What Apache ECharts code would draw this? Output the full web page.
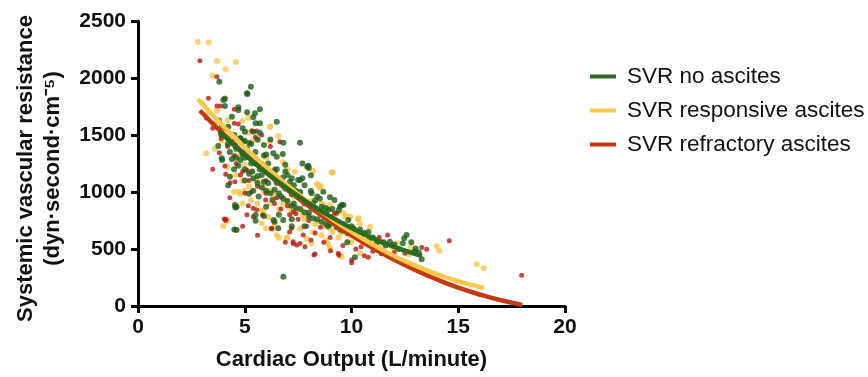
<!DOCTYPE html>
<html>
<head>
<meta charset="utf-8">
<script src="https://cdn.jsdelivr.net/npm/echarts@6/dist/echarts.min.js"></script>
<style>html,body{margin:0;padding:0;background:#fff}#c{width:868px;height:377px}</style>
</head>
<body>
<div id="c"></div>
<script>
var seriesNames = ['SVR no ascites', 'SVR responsive ascites', 'SVR refractory ascites'];
var xTicks = [0, 5, 10, 15, 20];
var yTicks = [0, 500, 1000, 1500, 2000, 2500];

var greenPts = [
[3.81,1968],[5.29,1923],[5.11,1866],[4.0,1807],[4.07,1754],[4.70,1743],[5.11,1699],[5.48,1690],[5.71,1725],[5.40,1655],[5.51,1602],[5.71,1602],[6.50,1616],[3.92,1573],[4.23,1573],[5.01,1529],[5.40,1529],[6.81,1432],[5.90,1412],[4.51,1500],[4.78,1471],[4.93,1441],[4.54,1412],[5.2,1430],
[3.76,1403],[3.92,1295],[3.94,1280],[4.31,1134],[4.23,1060],[5.2,985],[4.62,871],[4.56,865],[5.51,798],[4.51,672],[5.51,748],[6.39,739],[6.57,681],[6.81,257],[7.2,700],
[7.59,1432],[7.70,1251],[7.93,1222],[8.0,1210],[8.10,1146],[7.59,1105],[7.2,1120],[8.10,1008],[8.68,1003],[8.52,944],[8.99,953],[9.54,886],[9.46,870],[8.91,842],
[10.16,427],[11.41,462],[11.80,564],[10.4,670],[10.8,650],
[12.58,623],[12.47,594],[12.4,550],[12.97,477],[13.15,470],[13.29,409],[13.0,505],
[5.12,1859],[4.07,1818],[4.70,1719],[6.78,1333],[6.34,1339],[6.5,1310],[7.12,1090],[7.5,1105],[7.8,1060],[8.13,988],[9.2,930],[8.6,871],[9.62,886],[9.4,840],[9.85,754],[10.1,680],[10.24,637],[9.8,560],[6.8,754],[6.35,754],[5.9,790],[4.54,886],[4.62,667],[5.4,1010],[5.65,960],[6.3,930],[6.7,960],[7.3,900],[8.0,820],[8.9,700],[9.3,690],[5.9,1090],[5.6,1140],[5.35,1180],[4.7,1230],[4.4,1290],[4.3,1350],[5.1,1380],[5.5,1350],[5.9,1320],[6.1,1250],[6.0,1330],[4.8,1470],[5.0,1450],[5.6,1460],[6.8,1130],[6.5,1080],[6.9,1030],[7.8,900],[8.3,850],[7.4,1010],[8.3,925],
[6.0,1200],[6.2,1150],[6.6,1100],[7.0,1050],[7.2,980],[7.6,950],[8.2,900],[8.6,800],[9.0,780],[9.6,720],[10.5,620],[11.0,600],[11.5,560],[12.0,540],[5.0,1300],[5.3,1250],[5.7,1200],[4.6,1380],[4.9,1330],[6.4,1180],[7.0,1150],[7.6,1000],[8.8,860],[10.0,700],[10.6,640],[7.98,1231],
[4.2,1420],[4.4,1440],[4.6,1300],[4.8,1280],[5.0,1200],[5.2,1160],[5.4,1120],[5.6,1080],[5.8,1040],[6.0,1010],[6.2,990],[6.4,1020],[6.6,990],[6.8,940],[7.0,920],[7.2,880],[7.4,860],[7.6,850],[7.8,820],[8.0,790],[8.2,770],[8.4,760],[8.6,740],[8.8,720],[9.0,720],[9.2,740],[9.4,700],[9.6,660],[9.8,640],[10.2,620],[10.8,580],[11.2,560],[11.6,530],[12.2,500],[12.8,560],[5.5,1250],[5.8,1150],[6.1,1080],[6.5,1200],[6.9,1180],[7.3,1060],[7.7,1120],[8.4,960],[9.1,850],[4.5,1200],[5.0,1100],[6.0,870],[6.6,800],[7.2,760],[7.8,700],[3.9,1500],[4.1,1560],[4.4,1660],[4.9,1560],[5.3,1420],[6.2,1460],[6.9,1240],[5.7,1520]
];

var yellowPts = [
[2.80,2315],[3.30,2312],[3.70,2149],[4.59,2140],[4.11,2076],[3.50,2020],[4.06,1822],[3.70,1713],[5.17,1651],[4.20,1631],[4.89,1625],[6.20,1573],[6.57,1491],[6.18,1441],[5.61,1456],
[3.19,1339],[4.2,1220],[4.70,1003],[4.78,985],[5.87,830],[4.20,745],[4.0,702],[5.79,725],[6.30,675],[6.60,599],[7.0,600],
[8.21,1187],[9.12,1170],[7.35,1178],[8.40,1070],[8.55,1050],[8.68,886],[9.0,886],[9.70,789],[9.95,780],[10.32,769],[7.90,915],
[8.13,549],[8.91,543],[9.77,789],[10.87,696],[9.54,432],[11.9,520],[10.40,462],[11.10,564],
[12.79,520],[12.12,549],[12.7,450],[13.99,526],[14.1,485],[15.86,366],[16.19,331],
[6.18,1573],[9.07,1170],[6.8,1260],[8.45,1061],[8.5,1040],[10.3,760],[10.4,720],[8.99,506],[9.46,440],[8.8,570],[6.96,594],[6.5,620],[6.0,680],[5.8,840],[4.9,900],[5.0,1010],[6.35,970],[7.0,920],[7.7,835],[8.4,740],[9.0,680],[4.9,1100],[4.9,1350],[5.8,1250],[5.35,1440],[5.2,1520],[6.4,1120],[7.5,985],[8.1,920],[9.2,780],
[5.5,1100],[5.9,1000],[6.2,900],[6.6,850],[7.2,820],[7.8,760],[8.2,650],[8.6,620],[9.4,600],[10.0,560],[4.6,1150],[5.2,1050],[3.9,1450],[4.3,1500],
[3.0,1780],[3.3,1700],[3.6,1600],[4.0,1520],[4.4,1420],[4.7,1320],[5.0,1240],[5.3,1180],[5.6,1120],[5.9,1060],[6.2,1010],[6.5,960],[6.8,900],[7.1,860],[7.4,840],[7.7,800],[8.0,770],[8.3,720],[8.7,700],[9.1,650],[9.5,640],[9.9,620],[10.3,600],[10.8,560],[11.3,540],[12.0,500],[6.8,1080],[7.3,960],[8.6,900],[5.6,900],[6.1,780],[6.4,720],[7.6,680],[7.9,590],[5.3,930],[4.5,1000],[3.6,1380],[6.0,1300],[7.0,1200],[9.6,820]
];

var redPts = [
[2.90,2152],[3.70,2011],[3.30,1822],[3.70,1754],[4.51,1725],[3.81,1631],[4.51,1602],[4.70,1596],[5.33,1538],[5.56,1535],[6.64,1441],
[3.81,1345],[4.07,1228],[4.11,1155],[4.31,1082],[4.54,1091],[5.01,988],[5.17,880],[5.40,857],[5.56,845],[5.83,798],[4.04,763],[4.12,760],[6.26,681],[7.19,681],[7.27,564],[7.1,650],
[9.20,813],
[7.27,827],[7.27,549],[7.59,549],[7.82,520],[7.74,623],[8.29,456],[9.02,485],[9.38,462],[9.31,813],[9.46,667],[10.01,403],[10.01,380],[10.79,427],[11.30,602],[11.69,623],[10.45,520],
[13.29,514],[13.52,497],[12.5,462],[14.58,573],[17.97,269],
[3.87,1754],[8.24,447],[9.41,447],[10.6,440],[7.43,535],[6.25,680],[5.4,783],[5.1,800],[4.1,750],[5.98,930],[7.4,810],[8.55,690],[5.1,1190],[4.5,1320],[5.5,1480],[5.8,1500],[6.2,1400],[6.8,1050],[7.7,940],[8.8,810],
[4.8,1150],[5.3,1000],[6.0,1100],[6.5,950],[7.0,880],[8.0,750],[9.0,600],
[3.2,1650],[3.5,1560],[3.9,1470],[4.2,1400],[4.6,1250],[4.9,1180],[5.2,1100],[5.6,1050],[6.0,990],[6.4,900],[6.7,850],[7.1,800],[7.5,760],[7.9,700],[8.3,640],[8.7,560],[9.6,530],[10.2,500],[11.0,480],[12.0,470],[5.8,1250],[6.4,1200],[7.2,1000],[8.1,580],[6.9,560],[5.6,620],[4.9,700],[4.3,950],[3.5,1200]
];

var greenFit = [[3.8,1531],[4,1496],[5,1327],[6,1172],[7,1030],[8,902],[9,786],[10,684],[11,595],[12,519],[13,456],[13.3,439]];
var yellowFit = [[2.8,1816],[4,1578],[5,1392],[6,1219],[7,1058],[8,910],[9,774],[10,650],[11,539],[12,439],[13,354],[14,279],[15,217],[16,167],[16.2,158]];
var redFit = [[2.9,1715],[4,1507],[5,1333],[6,1170],[7,1017],[8,875],[9,742],[10,620],[11,508],[12,406],[13,314],[14,233],[15,162],[16,101],[17,50],[18,10]];

var C_GREEN = '#1d5e16', C_YELLOW = '#fbc447', C_RED = '#b81c10';
var L_GREEN = '#2a6b1e', L_YELLOW = '#fdc74a', L_RED = '#c6380f';

var chart = echarts.init(document.getElementById('c'));
var font = 'Liberation Sans, Arial, sans-serif';
function plain(v) { return String(v); }
chart.setOption({
  animation: false,
  backgroundColor: '#ffffff',
  grid: { left: 138, right: 303, top: 21, bottom: 71, containLabel: false },
  xAxis: {
    type: 'value', min: xTicks[0], max: xTicks[xTicks.length - 1], interval: 5,
    name: 'Cardiac Output (L/minute)', nameLocation: 'middle', nameGap: 43,
    nameTextStyle: { fontFamily: font, fontWeight: 'bold', fontSize: 22, color: '#111' },
    axisLine: { lineStyle: { color: '#000', width: 3 } },
    axisTick: { show: true, length: 7, lineStyle: { color: '#000', width: 3 } },
    axisLabel: { fontFamily: font, fontWeight: 'bold', fontSize: 21, color: '#111', margin: 11, formatter: plain },
    splitLine: { show: false }
  },
  yAxis: {
    type: 'value', min: yTicks[0], max: yTicks[yTicks.length - 1], interval: 500,
    name: 'Systemic vascular resistance\n(dyn·second·cm⁻⁵)', nameLocation: 'middle', nameGap: 72,
    nameRotate: 90,
    nameTextStyle: { fontFamily: font, fontWeight: 'bold', fontSize: 22, color: '#111', lineHeight: 27, padding: [0, 10, 0, 0] },
    axisLine: { lineStyle: { color: '#000', width: 3 } },
    axisTick: { show: true, length: 7, lineStyle: { color: '#000', width: 3 } },
    axisLabel: { fontFamily: font, fontWeight: 'bold', fontSize: 21, color: '#111', margin: 12, formatter: plain },
    splitLine: { show: false }
  },
  legend: {
    data: seriesNames, orient: 'vertical', left: 585, top: 60,
    icon: 'rect', itemWidth: 26, itemHeight: 4, itemGap: 11,
    textStyle: { fontFamily: font, fontSize: 22.5, color: '#111', lineHeight: 22, padding: [0, 0, 0, 6] }
  },
  series: [
    { type: 'scatter', name: 'pts_yellow', data: yellowPts, symbolSize: 6, itemStyle: { color: C_YELLOW }, z: 2 },
    { type: 'scatter', name: 'pts_red', data: redPts, symbolSize: 5, itemStyle: { color: C_RED }, z: 3 },
    { type: 'scatter', name: 'pts_green', data: greenPts, symbolSize: 6, itemStyle: { color: C_GREEN }, z: 4 },
    { type: 'line', name: seriesNames[2], data: redFit, smooth: true, showSymbol: false, lineStyle: { color: L_RED, width: 4.5 }, itemStyle: { color: L_RED }, z: 5 },
    { type: 'line', name: seriesNames[1], data: yellowFit, smooth: true, showSymbol: false, lineStyle: { color: L_YELLOW, width: 4.5 }, itemStyle: { color: L_YELLOW }, z: 6 },
    { type: 'line', name: seriesNames[0], data: greenFit, smooth: true, showSymbol: false, lineStyle: { color: L_GREEN, width: 4.5 }, itemStyle: { color: L_GREEN }, z: 7 }
  ]
});
</script>
</body>
</html>
